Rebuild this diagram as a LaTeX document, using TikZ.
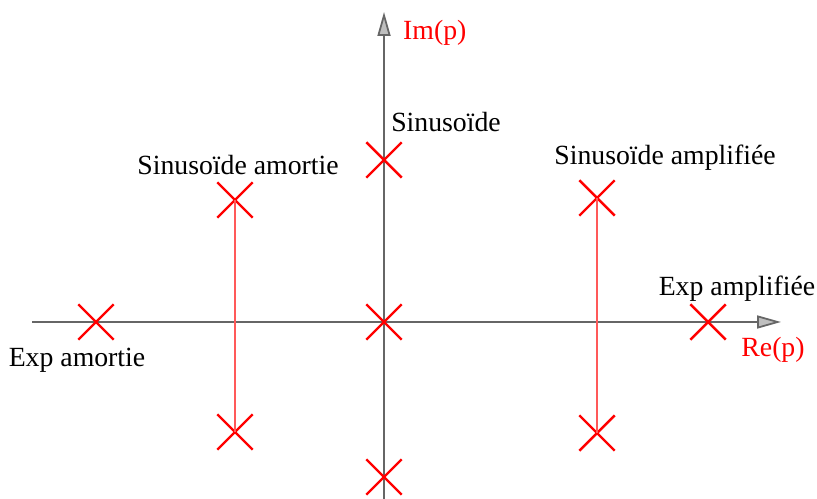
\documentclass[tikz,border=0pt]{standalone}
\usepackage{fontspec}
\setmainfont{Liberation Serif}
\usetikzlibrary{arrows.meta,shapes.misc}

\begin{document}
\begin{tikzpicture}[x=0.02cm,y=-0.02cm,
  pole/.style={cross out,draw=red,line width=1.4pt,minimum size=0.66cm,inner sep=0pt},
  axe/.style={draw=black!60,line width=1pt,-{Triangle[length=0.48cm,width=0.26cm,fill=black!25]}},
  lbl/.style={font=\fontsize{15.8}{18}\selectfont},
  lblr/.style={lbl,text=red}]
  \useasboundingbox (0,0) rectangle (817,499);
  \coordinate (O) at (384,322);
  \coordinate (Xa) at (32,322); \coordinate (Xb) at (781,322);
  \coordinate (Ya) at (384,499); \coordinate (Yb) at (384,12);
  \draw[axe] (Xa)--(Xb);
  \draw[axe] (Ya)--(Yb);
  \node[lblr,anchor=west] (im) at (397,33) {Im(p)};
  \node[lblr] (re) at (773,350) {Re(p)};
  % poles
  \node[pole] (p0) at (O) {};
  \node[pole] (pea) at (96,322) {};
  \node[pole] (pep) at (708,322) {};
  \node[pole] (ps1) at (384,160) {};
  \node[pole] (ps2) at (384,477) {};
  \node[pole] (pa1) at (235,200) {};
  \node[pole] (pa2) at (235,432) {};
  \node[pole] (pp1) at (597,198) {};
  \node[pole] (pp2) at (597,433) {};
  \draw[draw=red!65,line width=0.6pt] (pa1.center)--(pa2.center) (pp1.center)--(pp2.center);
  % textes
  \node[lbl] (ts) at (446,122) {Sinusoïde};
  \node[lbl] (tsa) at (238,165) {Sinusoïde amortie};
  \node[lbl] (tsp) at (665,158) {Sinusoïde amplifiée};
  \node[lbl] (tep) at (737,289) {Exp amplifiée};
  \node[lbl] (tea) at (77,360) {Exp amortie};
\end{tikzpicture}
\end{document}
